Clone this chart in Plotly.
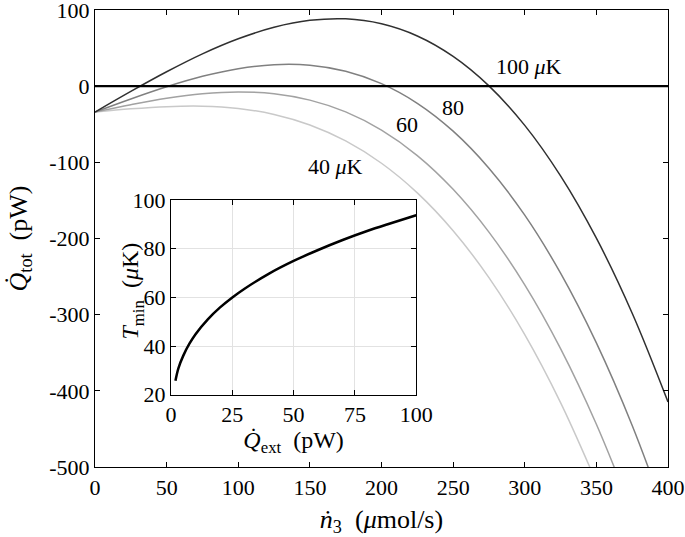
import plotly.graph_objects as go

# ---- main panel data ----
n3 = [0, 25, 50, 75, 100, 125, 150, 175, 200, 225, 250, 275, 300, 325, 350, 375, 400]
q_100uK = [-34, -6.9, 18.9, 42.4, 62.2, 77.3, 86.4, 88.4, 81.9, 65.9, 39.1, 0.4, -51.5, -117.8, -199.6, -298.1, -414.6]
q_80uK = [-34, -16.8, -0.8, 12.9, 22.9, 28.2, 27.5, 19.6, 3.3, -22.5, -59.1, -107.7, -169.4, -245.5, -337.1, -445.5, -571.8]
q_60uK = [-34, -24.4, -16.0, -10.0, -7.6, -9.9, -18.3, -33.8, -57.7, -91.1, -135.4, -191.6, -260.9, -344.6, -443.9, -559.9]
q_40uK = [-34, -29.8, -26.9, -26.3, -29.3, -37.1, -50.9, -71.9, -101.2, -140.1, -189.8, -251.4, -326.2, -415.4, -520.1]

main_xticks = [0, 50, 100, 150, 200, 250, 300, 350, 400]
main_yticks = [-500, -400, -300, -200, -100, 0, 100]
main_yticklabels = ["-500", "-400", "-300", "-200", "-100", "0", "100"]

# curve labels
label_text = ["100 <i>μ</i>K", "80", "60", "40 <i>μ</i>K"]
label_x = [303, 250, 218, 168]
label_y = [26, -28, -50, -106]

# ---- inset data ----
q_ext = [1.8, 3, 5, 7.5, 10, 15, 20, 25, 30, 40, 50, 60, 70, 80, 90, 100]
t_min = [25.8, 30.9, 36.1, 41.0, 44.9, 51.0, 55.9, 60.0, 63.6, 69.8, 75.0, 79.5, 83.6, 87.3, 90.6, 93.8]
inset_xticks = [0, 25, 50, 75, 100]
inset_yticks = [20, 40, 60, 80, 100]

FONT = "Liberation Serif"
FS = 22
TFS = 26
ITFS = 24

fig = go.Figure()

series = [
    (q_40uK, "#c9c9c9"),
    (q_60uK, "#a2a2a2"),
    (q_80uK, "#808080"),
    (q_100uK, "#303030"),
]
for vals, col in series:
    fig.add_trace(go.Scatter(
        x=n3[:len(vals)], y=vals, mode="lines",
        line=dict(color=col, width=1.5, shape="spline"),
        showlegend=False, hoverinfo="skip", xaxis="x", yaxis="y"))

fig.add_trace(go.Scatter(
    x=q_ext, y=t_min, mode="lines",
    line=dict(color="black", width=2.5, shape="spline"),
    showlegend=False, hoverinfo="skip", xaxis="x2", yaxis="y2"))

# zero reference line
fig.add_shape(type="line", xref="x domain", yref="y", x0=0, x1=1, y0=0, y1=0,
              line=dict(color="black", width=2.2))

for t, x, y in zip(label_text, label_x, label_y):
    fig.add_annotation(x=x, y=y, xref="x", yref="y", text=t, showarrow=False,
                       font=dict(family=FONT, size=FS, color="black"))

# inset y-axis title (placed as rotated text, close to the inset axis)
fig.add_annotation(x=0.0655, y=0.385, xref="paper", yref="paper",
                   xanchor="center", yanchor="middle",
                   text="<i>T</i><sub>min</sub>&nbsp;&nbsp;(<i>μ</i>K)", textangle=-90,
                   showarrow=False, font=dict(family=FONT, size=ITFS, color="black"))

axis_common = dict(showline=True, linecolor="black", linewidth=1.2, mirror="ticks",
                   ticks="inside", ticklen=5, tickcolor="black", tickwidth=1,
                   zeroline=False, automargin=False, ticklabeloverflow="allow",
                   tickfont=dict(family=FONT, size=FS, color="black"))

fig.update_layout(
    width=685, height=537,
    margin=dict(l=95, r=17, t=10, b=70),
    paper_bgcolor="white", plot_bgcolor="white",
    font=dict(family=FONT, size=FS, color="black"),
    xaxis=dict(domain=[0, 1], range=[0, 400], tickvals=main_xticks, showgrid=False,
               title=dict(text="<i>ṅ</i><sub>3</sub>&nbsp;&nbsp;(<i>μ</i>mol/s)", font=dict(family=FONT, size=TFS), standoff=12),
               **axis_common),
    yaxis=dict(domain=[0, 1], range=[-500, 100], tickvals=main_yticks, ticktext=main_yticklabels,
               showgrid=False,
               title=dict(text="<i>Q̇</i><sub>tot</sub>&nbsp;&nbsp;(pW)", font=dict(family=FONT, size=TFS), standoff=14),
               **axis_common),
    xaxis2=dict(domain=[0.1327, 0.5605], anchor="y2", range=[0, 100], tickvals=inset_xticks,
                showgrid=True, gridcolor="#e2e2e2", gridwidth=1,
                title=dict(text="<i>Q̇</i><sub>ext</sub>&nbsp;&nbsp;(pW)", font=dict(family=FONT, size=ITFS), standoff=2),
                **axis_common),
    yaxis2=dict(domain=[0.158, 0.584], anchor="x2", range=[20, 100], tickvals=inset_yticks,
                showgrid=True, gridcolor="#e2e2e2", gridwidth=1,
                **axis_common),
)

fig.write_html("out.html", config={"displayModeBar": False},
               post_script="document.body.style.margin='0';")
